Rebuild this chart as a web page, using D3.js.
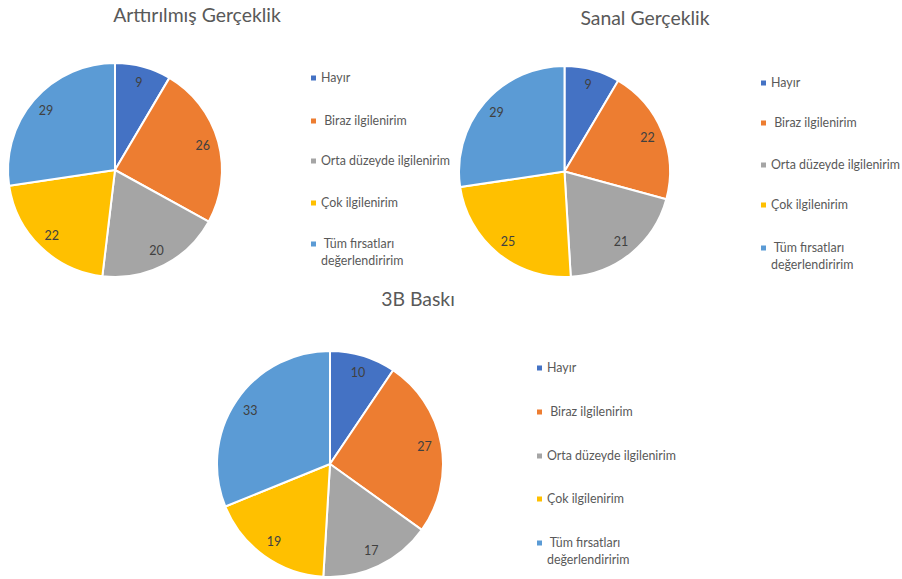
<!DOCTYPE html>
<html>
<head>
<meta charset="utf-8">
<script src="https://cdn.jsdelivr.net/npm/d3@7"></script>
<style>
  body { margin: 0; background: #fff; }
  svg { display: block; font-family: Lato, "Open Sans", sans-serif; }
  .title { font-size: 19.4px; fill: #595959; }
  .legend text { font-size: 12.4px; fill: #595959; }
  .slice-label { font-size: 12.5px; fill: #404040; }
</style>
</head>
<body>
<svg id="chart"></svg>
<script>
// Survey answers, three technologies
const categories = ['Hayır', ' Biraz ilgilenirim', 'Orta düzeyde ilgilenirim', 'Çok ilgilenirim', ' Tüm fırsatları|değerlendiririm'];
const colors = ['#4472C4', '#ED7D31', '#A5A5A5', '#FFC000', '#5B9BD5'];

const titles = ['Arttırılmış Gerçeklik', 'Sanal Gerçeklik', '3B Baskı'];
const arValues = [9, 26, 20, 22, 29];
const vrValues = [9, 22, 21, 25, 29];
const printValues = [10, 27, 17, 19, 33];

const WIDTH = 902, HEIGHT = 579;

// layout for each pie (center, radius, title, legend)
const panels = [
  { values: arValues, title: titles[0], cx: 115, cy: 170, r: 107, tx: 197, ty: 22, lx: 311, ly: [78, 121, 161, 203, 244] },
  { values: vrValues, title: titles[1], cx: 564.5, cy: 171.5, r: 105.5, tx: 645, ty: 25, lx: 761, ly: [83, 123, 165, 205, 248] },
  { values: printValues, title: titles[2], cx: 330, cy: 464, r: 113, tx: 418, ty: 306, lx: 537, ly: [368, 412, 456, 499, 543] }
];

const svg = d3.select('#chart')
  .attr('width', WIDTH)
  .attr('height', HEIGHT);

const color = d3.scaleOrdinal().domain(d3.range(categories.length)).range(colors);

const pie = d3.pie()
  .sort(null)
  .value(d => d);

panels.forEach(p => {
  const arc = d3.arc().innerRadius(0).outerRadius(p.r);
  const labelArc = d3.arc().innerRadius(p.r * 0.85).outerRadius(p.r * 0.85);

  const g = svg.append('g')
    .attr('transform', `translate(${p.cx},${p.cy})`);

  const arcs = pie(p.values);

  g.selectAll('path')
    .data(arcs)
    .enter()
    .append('path')
    .attr('d', arc)
    .attr('fill', (d, i) => color(i))
    .attr('stroke', '#fff')
    .attr('stroke-width', 2)
    .attr('stroke-linejoin', 'round');

  g.selectAll('text.slice-label')
    .data(arcs)
    .enter()
    .append('text')
    .attr('class', 'slice-label')
    .attr('transform', d => `translate(${labelArc.centroid(d)})`)
    .attr('text-anchor', 'middle')
    .attr('dy', '0.35em')
    .text(d => d.data);

  svg.append('text')
    .attr('class', 'title')
    .attr('x', p.tx)
    .attr('y', p.ty)
    .attr('text-anchor', 'middle')
    .text(p.title);

  // legend
  const lg = svg.append('g').attr('class', 'legend');
  const items = lg.selectAll('g')
    .data(categories)
    .enter()
    .append('g')
    .attr('transform', (d, i) => `translate(${p.lx},${p.ly[i]})`);

  items.append('rect')
    .attr('x', 0)
    .attr('y', -2.5)
    .attr('width', 5)
    .attr('height', 5)
    .attr('fill', (d, i) => color(i));

  items.each(function(d) {
    const lines = d.split('|');
    const t = d3.select(this).append('text')
      .attr('x', 10)
      .attr('y', 0)
      .style('white-space', 'pre');
    lines.forEach((line, k) => {
      t.append('tspan')
        .attr('x', 10)
        .attr('dy', k === 0 ? '0.35em' : '17px')
        .text(line);
    });
  });
});
</script>
</body>
</html>
